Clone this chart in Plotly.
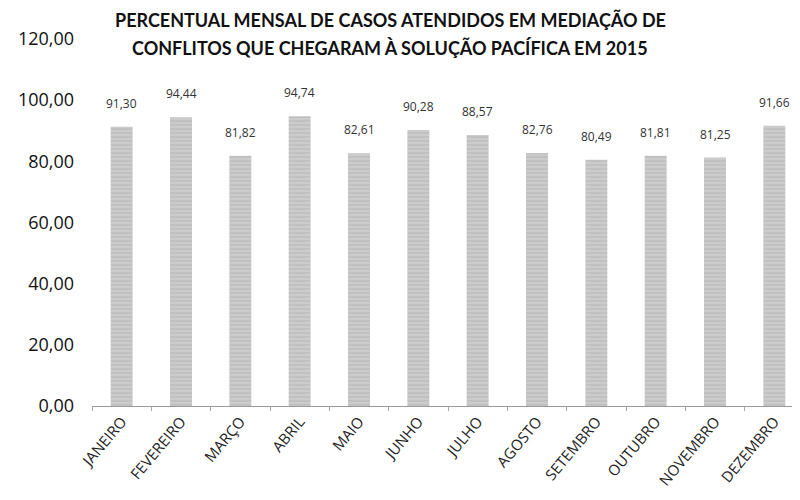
import plotly.graph_objects as go

meses = ["JANEIRO", "FEVEREIRO", "MARÇO", "ABRIL", "MAIO", "JUNHO", "JULHO",
         "AGOSTO", "SETEMBRO", "OUTUBRO", "NOVEMBRO", "DEZEMBRO"]
valores = [91.30, 94.44, 81.82, 94.74, 82.61, 90.28, 88.57, 82.76, 80.49, 81.81, 81.25, 91.66]
rotulos = ["91,30", "94,44", "81,82", "94,74", "82,61", "90,28", "88,57",
           "82,76", "80,49", "81,81", "81,25", "91,66"]
y_ticks = [0, 20, 40, 60, 80, 100, 120]
y_tick_text = ["0,00", "20,00", "40,00", "60,00", "80,00", "100,00", "120,00"]
titulo_l1 = "PERCENTUAL MENSAL DE CASOS ATENDIDOS EM MEDIAÇÃO DE"
titulo_l2 = "CONFLITOS QUE CHEGARAM À SOLUÇÃO PACÍFICA EM 2015"

fig = go.Figure(go.Bar(
    x=meses, y=valores,
    marker=dict(color="#c2c2c2", line=dict(width=0),
                pattern=dict(shape="-", fgcolor="#a9a9a9", bgcolor="#cbcbcb", size=4, solidity=0.3)),
    cliponaxis=False,
))

# data labels above the bars
for m, v, r in zip(meses, valores, rotulos):
    fig.add_annotation(
        x=m, y=v, text=r, showarrow=False, xanchor="center", yanchor="bottom",
        yshift=13, font=dict(family="Open Sans", size=12, color="#333333"),
    )

# page body has an 8px margin: compensate in figure margins
fig.update_layout(
    width=800, height=500,
    paper_bgcolor="white", plot_bgcolor="white",
    margin=dict(l=84, r=4, t=31, b=102, autoexpand=False),
    bargap=0.63,
    showlegend=False,
    font=dict(family="Open Sans", color="#111111"),
)
for txt, yy in [(titulo_l1, 1.0518), (titulo_l2, 0.9755)]:
    fig.add_annotation(
        text=txt, xref="paper", yref="paper", x=0.419, y=yy,
        xanchor="center", yanchor="middle", showarrow=False,
        font=dict(family="Lato", size=18, color="#111111", weight="bold"),
    )
fig.update_xaxes(
    automargin=False,
    showline=True, linecolor="#999999", linewidth=1,
    ticks="outside", ticklen=4, tickcolor="#aaaaaa", tickson="boundaries",
    tickangle=-50, tickfont=dict(family="Open Sans", size=15, color="#222222"),
    showgrid=False,
)
fig.update_yaxes(
    range=[0, 120], tickvals=y_ticks, ticktext=y_tick_text, automargin=False,
    showgrid=False, showline=False, zeroline=False,
    tickfont=dict(family="Open Sans", size=18, color="#111111"),
    ticks="", ticklabelstandoff=17,
)

fig.write_html("out.html")
